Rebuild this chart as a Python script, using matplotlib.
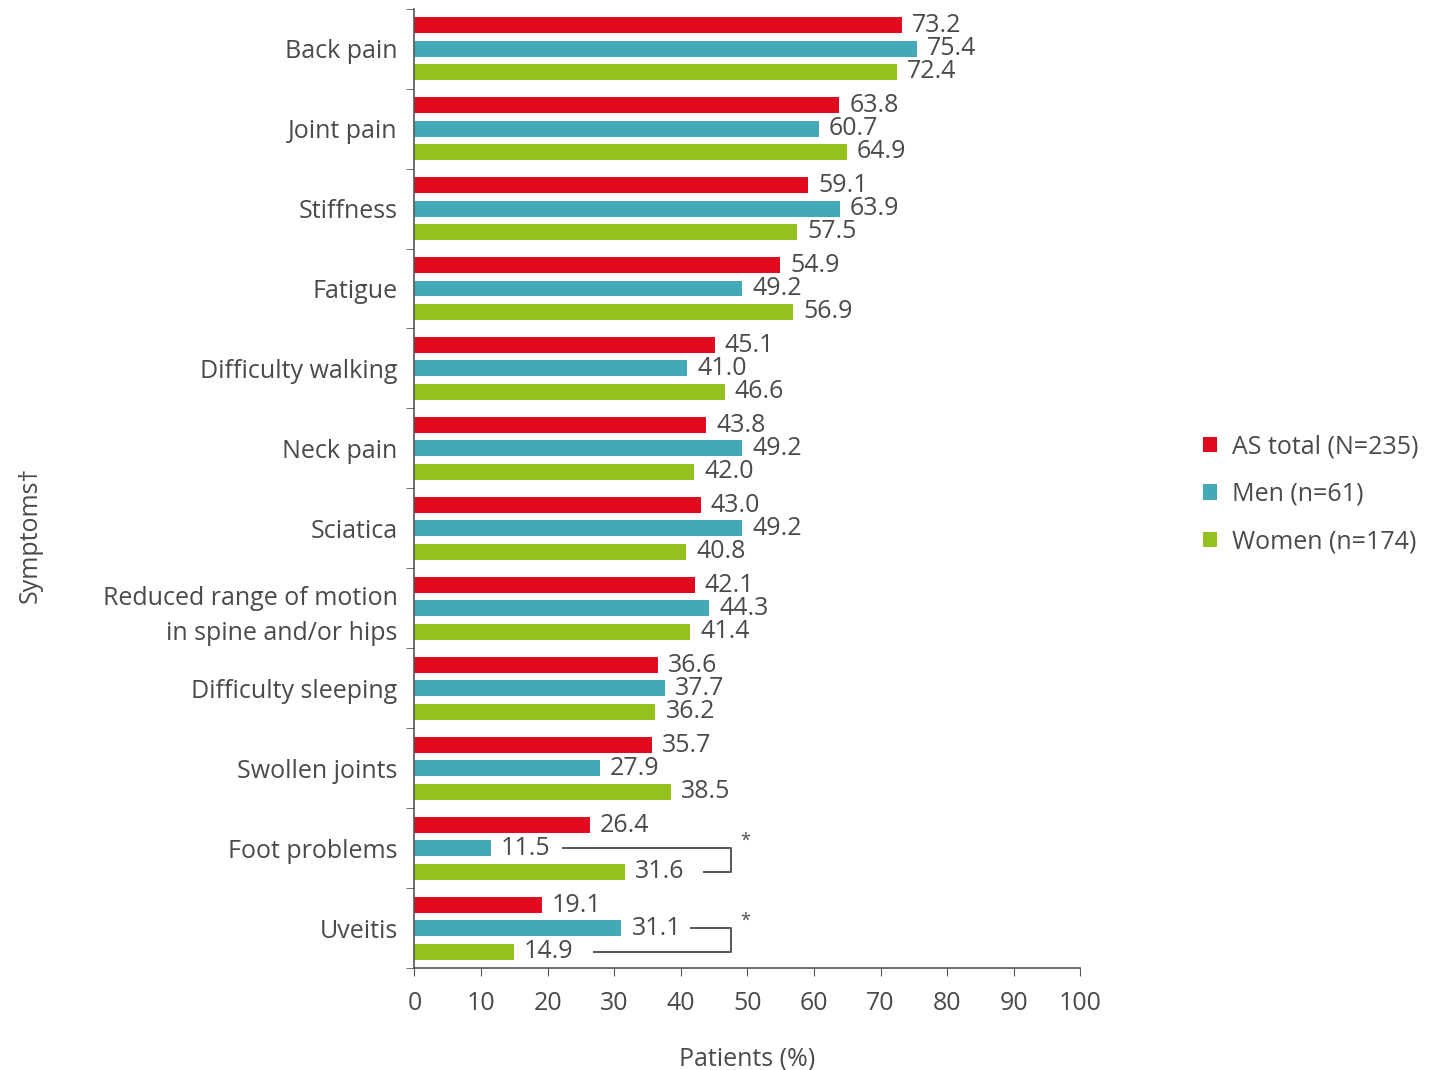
import numpy as np
import matplotlib.pyplot as plt

plt.rcParams['font.family'] = ['Open Sans', 'DejaVu Sans']

# data
symptoms = ["Back pain", "Joint pain", "Stiffness", "Fatigue", "Difficulty walking",
            "Neck pain", "Sciatica", "Reduced range of motion\nin spine and/or hips",
            "Difficulty sleeping", "Swollen joints", "Foot problems", "Uveitis"]
as_total = [73.2, 63.8, 59.1, 54.9, 45.1, 43.8, 43.0, 42.1, 36.6, 35.7, 26.4, 19.1]
men = [75.4, 60.7, 63.9, 49.2, 41.0, 49.2, 49.2, 44.3, 37.7, 27.9, 11.5, 31.1]
women = [72.4, 64.9, 57.5, 56.9, 46.6, 42.0, 40.8, 41.4, 36.2, 38.5, 31.6, 14.9]
series_names = ["AS total (N=235)", "Men (n=61)", "Women (n=174)"]
colors = ["#e10a1e", "#44a9b7", "#94c11f"]

text_col = "#4a4a4a"
fs = 18
fig = plt.figure(figsize=(14.54, 10.70), dpi=100)
ax = fig.add_axes([0.285, 0.095, 0.458, 0.897])

n = len(symptoms)
y = np.arange(n)
offsets = [-0.29, 0.0, 0.29]
bh = 0.2
for vals, off, c, name in zip([as_total, men, women], offsets, colors, series_names):
    ax.barh(y + off, vals, height=bh, color=c, label=name)
    for yi, v in zip(y, vals):
        ax.text(v + 1.5, yi + off, f"{v:.1f}", va="center", ha="left",
                fontsize=fs, color=text_col)

ax.set_ylim(n - 0.5, -0.5)
ax.set_xlim(0, 100)
ax.set_xticks(np.arange(0, 101, 10))
ax.set_yticks(y)
ax.set_yticklabels(symptoms, fontsize=fs, color=text_col, ha="right",
                   multialignment="right", linespacing=1.5)
ax.set_yticks(np.arange(-0.5, n, 1), minor=True)
ax.tick_params(axis="y", which="major", length=0, pad=12)
ax.tick_params(axis="y", which="minor", length=6, color="#555555")
ax.tick_params(axis="x", labelsize=fs, labelcolor=text_col, length=6, color="#555555", pad=10)
for s in ["top", "right"]:
    ax.spines[s].set_visible(False)
for s in ["left", "bottom"]:
    ax.spines[s].set_color("#555555")
    ax.spines[s].set_linewidth(1.2)

ax.set_xlabel("Patients (%)", fontsize=fs, color=text_col, labelpad=22)
fig.text(0.021, 0.5, "Symptoms\u2020", rotation=90, fontsize=fs, color=text_col,
         va="center", ha="center")

# significance brackets
def bracket(yi, x_top, x_bot, x_right=47.6):
    y1 = yi + offsets[1]
    y2 = yi + offsets[2]
    ax.plot([x_top, x_right, x_right, x_bot], [y1, y1, y2, y2],
            color="#555555", lw=1.4, clip_on=False)
    ax.text(x_right + 2.0, y1 - 0.1, "*", fontsize=13, color=text_col,
            ha="center", va="center")

bracket(10, 22.3, 43.5)
bracket(11, 41.5, 27.0)

leg = fig.legend(loc="center left", bbox_to_anchor=(0.812, 0.538), frameon=False,
                 fontsize=fs, handlelength=0.55, handleheight=0.55, labelspacing=0.9,
                 handletextpad=0.6)
for t in leg.get_texts():
    t.set_color(text_col)

fig.savefig("out.png", dpi=100)
